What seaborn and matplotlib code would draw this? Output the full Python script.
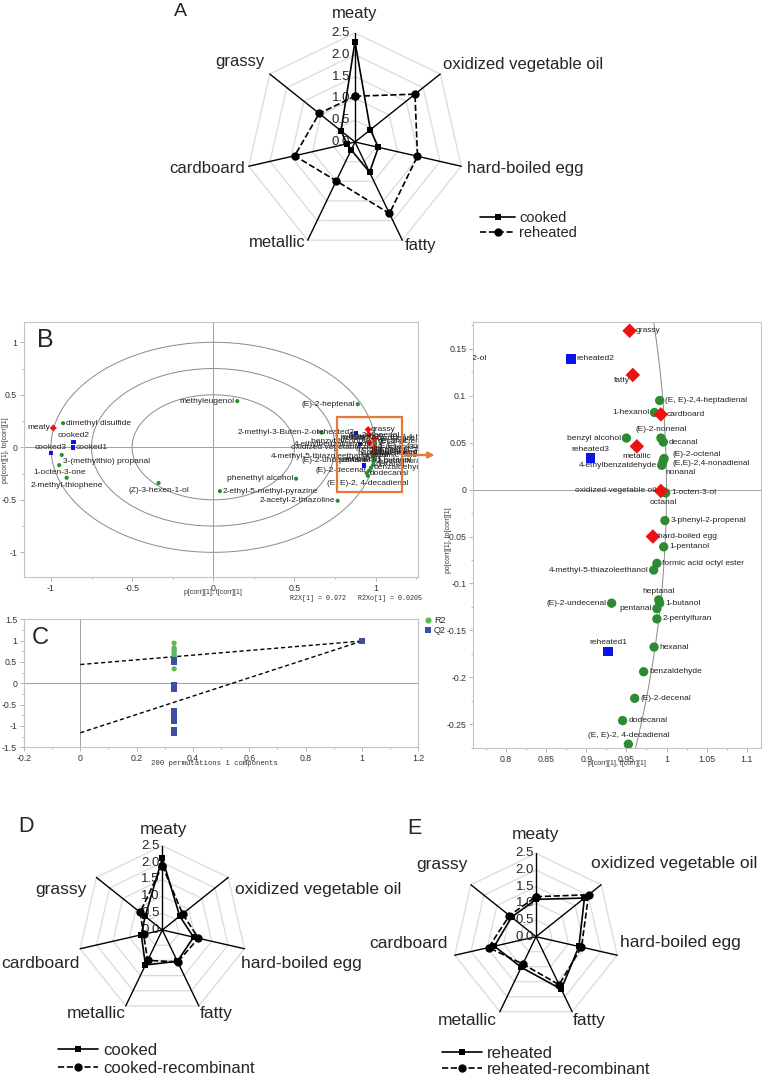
import numpy as np
import pandas as pd
import matplotlib
matplotlib.use("Agg")
import matplotlib.pyplot as plt
from matplotlib.lines import Line2D
from matplotlib.patches import Rectangle
from matplotlib.ticker import MultipleLocator, FuncFormatter
import seaborn as sns

sns.set_theme(style="white")
plt.rcParams['font.family'] = ['Liberation Sans', 'DejaVu Sans']

# ------------------------------------------------------------------ data
attributes = ["meaty", "oxidized vegetable oil", "hard-boiled egg", "fatty",
              "metallic", "cardboard", "grassy"]
radar_ticks = [0.0, 0.5, 1.0, 1.5, 2.0, 2.5]

a_cooked = [2.3, 0.45, 0.55, 0.77, 0.2, 0.19, 0.41]
a_reheated = [1.05, 1.76, 1.47, 1.82, 0.99, 1.42, 1.05]

d_cooked = [2.13, 0.66, 0.95, 1.03, 1.15, 0.64, 0.65]
d_cooked_recomb = [1.91, 0.77, 1.1, 1.05, 1.0, 0.57, 0.84]

e_reheated = [1.12, 1.86, 1.32, 1.75, 1.02, 1.28, 0.94]
e_reheated_recomb = [1.2, 2.02, 1.4, 1.6, 0.91, 1.46, 1.02]

# OPLS-DA loadings / scores (p[corr], po[corr])
var_names = ["dimethyl disulfide", "3-(methylthio) propanal", "1-octen-3-one",
             "2-methyl-thiophene", "(Z)-3-hexen-1-ol", "methyleugenol",
             "2-ethyl-5-methyl-pyrazine", "phenethyl alcohol", "2-acetyl-2-thiazoline",
             "(E)-2-heptenal", "2-methyl-3-Buten-2-ol", "(E, E)-2,4-heptadienal",
             "1-hexanol", "(E)-2-nonenal", "decanal", "benzyl alcohol", "(E)-2-octenal",
             "(E,E)-2,4-nonadienal", "4-ethylbenzaldehyde", "nonanal", "1-octen-3-ol",
             "octanal", "3-phenyl-2-propenal", "1-pentanol", "formic acid octyl ester",
             "4-methyl-5-thiazoleethanol", "heptanal", "1-butanol", "pentanal",
             "(E)-2-undecenal", "2-pentylfuran", "hexanal", "benzaldehyde",
             "(E)-2-decenal", "dodecanal", "(E, E)-2, 4-decadienal"]
var_x = [-0.925, -0.934, -0.949, -0.903, -0.337, 0.148, 0.041, 0.51, 0.766,
         0.89, 0.668, 0.9915, 0.985, 0.993, 0.996, 0.950, 0.997, 0.996, 0.994,
         0.995, 0.999, 0.9965, 0.998, 0.9965, 0.988, 0.984, 0.9903, 0.9915,
         0.988, 0.9315, 0.988, 0.9845, 0.9715, 0.9603, 0.9453, 0.9524]
var_y = [0.23, -0.073, -0.17, -0.29, -0.34, 0.44, -0.417, -0.299, -0.509,
         0.41, 0.14, 0.0948, 0.082, 0.0548, 0.0506, 0.0548, 0.033, 0.031, 0.0258,
         0.028, -0.0036, -0.0025, -0.033, -0.061, -0.0786, -0.0857, -0.1175,
         -0.121, -0.1268, -0.121, -0.1377, -0.1677, -0.194, -0.2223, -0.246, -0.2711]

sample_names = ["cooked1", "cooked2", "cooked3", "reheated1", "reheated2", "reheated3"]
sample_x = [-0.866, -0.86, -1.0, 0.927, 0.881, 0.905]
sample_y = [0.0, 0.053, -0.057, -0.1724, 0.139, 0.0336]

sensory_names = ["meaty", "grassy", "fatty", "cardboard", "metallic",
                 "oxidized vegetable oil", "hard-boiled egg"]
sensory_x = [-0.986, 0.954, 0.958, 0.993, 0.963, 0.993, 0.983]
sensory_y = [0.184, 0.169, 0.122, 0.080, 0.046, -0.0015, -0.050]

r2x_text = "R2X[1] = 0.972   R2Xo[1] = 0.0205"
zoom_box_x = [0.764, 1.165]
zoom_box_y = [-0.423, 0.291]
circle_radii = [0.5, 0.75, 1.0]

# permutation test (200 permutations)
perm_r2_x = [0.333] * 8 + [1.0]
perm_r2 = [0.94, 0.83, 0.79, 0.76, 0.72, 0.68, 0.64, 0.34, 0.99]
perm_q2_x = [0.333] * 10 + [1.0]
perm_q2 = [0.55, 0.5, -0.05, -0.12, -0.65, -0.72, -0.8, -0.88, -1.1, -1.15, 0.99]
r2_line_y = [0.44, 0.99]
q2_line_y = [-1.16, 0.99]
line_x = [0.0, 1.0]

# ------------------------------------------------------------------ style
GREEN = "#2e8b34"
RED = "#ee1111"
BLUE = "#0a14e6"
C_GREEN = "#5cb85c"
C_BLUE = "#3e4ea3"
ORANGE = "#e8773a"
TICKC = "#333333"

W, H = 762, 1084
fig = plt.figure(figsize=(W / 100, H / 100), dpi=100)


def fx(x):
    return x / W


def fy(y):
    return 1 - y / H


def add_px_axes(x0, y0, x1, y1):
    return fig.add_axes([x0 / W, 1 - y1 / H, (x1 - x0) / W, (y1 - y0) / H])


def gfmt(v, p):
    v = round(v, 4)
    if v == 0:
        return "0"
    return f"{v:g}"


# ------------------------------------------------------------------ radar
def radar(box, center, ppu, series, offsets, tick_dx, label_fs, tick_fs):
    x0, y0, x1, y1 = box
    cx, cy = center
    ax = add_px_axes(*box)
    ax.set_xlim((x0 - cx) / ppu, (x1 - cx) / ppu)
    ax.set_ylim((cy - y1) / ppu, (cy - y0) / ppu)
    ax.axis("off")
    n = len(attributes)
    th = 2 * np.pi * np.arange(n) / n
    thc = np.append(th, th[0])
    rmax = radar_ticks[-1]
    for lvl in radar_ticks[1:]:
        ax.plot(lvl * np.sin(thc), lvl * np.cos(thc), color="#dadada", lw=0.9, zorder=1)
    for t in th:
        ax.plot([0, rmax * np.sin(t)], [0, rmax * np.cos(t)], color="black", lw=1.0, zorder=2)
    for lvl in radar_ticks:
        ax.annotate(f"{lvl:.1f}", (0, lvl), xytext=(tick_dx, 0), textcoords="offset pixels",
                    ha="right", va="center", fontsize=tick_fs, zorder=3)
    for name, t, (dx, dy, ha) in zip(attributes, th, offsets):
        ax.annotate(name, (rmax * np.sin(t), rmax * np.cos(t)), xytext=(dx, dy),
                    textcoords="offset pixels", ha=ha, va="center", fontsize=label_fs)
    for vals, ls, mk, ms in series:
        v = np.append(vals, vals[0])
        ax.plot(v * np.sin(thc), v * np.cos(thc), color="black", lw=1.2, linestyle=ls,
                marker=mk, markersize=ms, markeredgewidth=0, zorder=4)
    return ax


def radar_legend(labels, x, ytop, fs, lsp):
    handles = [Line2D([], [], color="black", lw=1.2, ls="-", marker="s", markersize=5, markeredgewidth=0),
               Line2D([], [], color="black", lw=1.2, ls="--", marker="o", markersize=6, markeredgewidth=0)]
    fig.legend(handles, labels, loc="upper left", bbox_to_anchor=(fx(x), fy(ytop)),
               frameon=False, borderpad=0, borderaxespad=0, handlelength=2.4,
               handletextpad=0.3, labelspacing=lsp, fontsize=fs)


# Panel A
radar((150, 0, 620, 262), (355, 142), 43.6,
      [(a_cooked, "-", "s", 5), (a_reheated, "--", "o", 6)],
      [(0, 19.7, "center"), (2.8, 9.1, "left"), (5.4, -2, "left"), (2.7, -4.8, "left"),
       (-1.7, -2.1, "right"), (-3.7, -2, "right"), (-4.8, 12.4, "right")],
      -5, 12, 9.5)
radar_legend(["cooked", "reheated"], 480, 211, 10.5, 0.05)

# Panel D
radar((0, 800, 381, 1084), (162.3, 930), 33.72,
      [(d_cooked, "-", "s", 5), (d_cooked_recomb, "--", "o", 6)],
      [(0.7, 16.4, "center"), (6.8, -12.5, "left"), (-3.8, -14.5, "left"), (1.1, -7.3, "left"),
       (0, -7.3, "right"), (-0.1, -14.5, "right"), (-9.4, -12.5, "right")],
      -2.5, 12.5, 9.5)
radar_legend(["cooked", "cooked-recombinant"], 58, 1043, 12, 0.17)

# Panel E
radar((381, 800, 762, 1084), (536, 936.7), 33.32,
      [(e_reheated, "-", "s", 5), (e_reheated_recomb, "--", "o", 6)],
      [(-1, 19.4, "center"), (-10.1, 20.8, "left"), (2.8, 12.5, "left"), (0.6, -8.3, "left"),
       (-2.9, -8.3, "right"), (-6.8, 12.2, "right"), (-2.9, 19.8, "right")],
      -2, 12.5, 9.5)
radar_legend(["reheated", "reheated-recombinant"], 442, 1046, 12, 0.07)

# ------------------------------------------------------------------ B data frame
df_var = pd.DataFrame({"name": var_names, "x": var_x, "y": var_y})
df_smp = pd.DataFrame({"name": sample_names, "x": sample_x, "y": sample_y})
df_sen = pd.DataFrame({"name": sensory_names, "x": sensory_x, "y": sensory_y})
labels_all = pd.concat([df_var, df_smp, df_sen], ignore_index=True)

place_right = {
    "grassy": "r", "reheated2": "r", "fatty": "lb", "(E, E)-2,4-heptadienal": "r",
    "1-hexanol": "l", "cardboard": "r", "(E)-2-nonenal": "a", "decanal": "r",
    "benzyl alcohol": "l", "metallic": "b", "reheated3": "a", "(E)-2-octenal": "ru",
    "(E,E)-2,4-nonadienal": "rd", "4-ethylbenzaldehyde": "l", "nonanal": "br",
    "oxidized vegetable oil": "l", "1-octen-3-ol": "r", "octanal": "b",
    "3-phenyl-2-propenal": "r", "hard-boiled egg": "r", "1-pentanol": "r",
    "formic acid octyl ester": "r", "4-methyl-5-thiazoleethanol": "l", "heptanal": "a",
    "1-butanol": "r", "pentanal": "l", "(E)-2-undecenal": "l", "2-pentylfuran": "r",
    "reheated1": "a", "hexanal": "r", "benzaldehyde": "r", "(E)-2-decenal": "r",
    "dodecanal": "r", "(E, E)-2, 4-decadienal": "a",
}
place_left = dict(place_right)
place_left.update({
    "meaty": "l", "dimethyl disulfide": "r", "cooked2": "a", "cooked3": "a",
    "cooked1": "r", "3-(methylthio) propanal": "br", "1-octen-3-one": "b",
    "2-methyl-thiophene": "b", "(Z)-3-hexen-1-ol": "b", "methyleugenol": "l",
    "2-ethyl-5-methyl-pyrazine": "r", "phenethyl alcohol": "l",
    "2-acetyl-2-thiazoline": "l", "(E)-2-heptenal": "l", "2-methyl-3-Buten-2-ol": "l",
    "reheated2": "l", "(E)-2-decenal": "l", "(E, E)-2, 4-decadienal": "b",
})

off_right = {"r": (5.5, 0, "left"), "l": (-5, 0, "right"), "a": (0, 8.5, "center"),
             "b": (0, -10.5, "center"), "br": (3, -9.4, "left"), "lb": (-3, -6, "right"),
             "ru": (8, 4, "left"), "rd": (9, -3, "left")}
off_left = {"r": (2.5, 0, "left"), "l": (-2.5, 0, "right"), "a": (0, 6, "center"),
            "b": (0, -7.5, "center"), "br": (1, -7, "left"), "lb": (-2, -3, "right"),
            "ru": (3, 2, "left"), "rd": (3, -2, "left")}


def style_pls_axes(ax):
    for s in ax.spines.values():
        s.set_color("#c4c4c4")
        s.set_linewidth(0.8)
    ax.tick_params(which="both", direction="out", left=True, bottom=True, color="#a8a8a8",
                   labelsize=6.3, labelcolor=TICKC, pad=2, width=0.6)
    ax.tick_params(which="major", length=3)
    ax.tick_params(which="minor", length=1.5)
    ax.xaxis.set_major_formatter(FuncFormatter(gfmt))
    ax.yaxis.set_major_formatter(FuncFormatter(gfmt))
    ax.set_xlabel("")
    ax.set_ylabel("")
    ax.grid(False)


def draw_pls(ax, sizes, places, offs):
    tt = np.linspace(0, 2 * np.pi, 721)
    for r in circle_radii:
        ax.plot(r * np.cos(tt), r * np.sin(tt), color="#8a8a8a", lw=0.7, zorder=1)
    ax.axhline(0, color="#a0a0a0", lw=0.7, zorder=1)
    ax.axvline(0, color="#a0a0a0", lw=0.7, zorder=1)
    sv, ss, sd = sizes
    sns.scatterplot(data=df_var, x="x", y="y", color=GREEN, marker="o", s=sv,
                    edgecolor="none", ax=ax, legend=False, zorder=3)
    sns.scatterplot(data=df_smp, x="x", y="y", color=BLUE, marker="s", s=ss,
                    edgecolor="none", ax=ax, legend=False, zorder=3)
    sns.scatterplot(data=df_sen, x="x", y="y", color=RED, marker="D", s=sd,
                    edgecolor="none", ax=ax, legend=False, zorder=4)
    for _, row in labels_all.iterrows():
        dx, dy, ha = offs[places.get(row["name"], "r")]
        ax.annotate(row["name"], (row["x"], row["y"]), xytext=(dx, dy),
                    textcoords="offset pixels", ha=ha, va="center", fontsize=6,
                    color="#222222", annotation_clip=False, clip_on=True, zorder=5)


# Panel B left
axL = add_px_axes(24, 321.7, 418.3, 576.7)
draw_pls(axL, (9, 10, 13), place_left, off_left)
axL.set_xlim(-1.166, 1.263)
axL.set_ylim(-1.232, 1.196)
axL.set_xticks([-1, -0.5, 0, 0.5, 1])
axL.set_yticks([-1, -0.5, 0, 0.5, 1])
axL.xaxis.set_minor_locator(MultipleLocator(0.25))
axL.yaxis.set_minor_locator(MultipleLocator(0.25))
style_pls_axes(axL)
axL.add_patch(Rectangle((zoom_box_x[0], zoom_box_y[0]), zoom_box_x[1] - zoom_box_x[0],
                        zoom_box_y[1] - zoom_box_y[0], fill=False, edgecolor=ORANGE,
                        lw=1.6, zorder=6))
axL.annotate("", xy=(1.38, -0.073), xytext=(zoom_box_x[1], -0.073),
             arrowprops=dict(arrowstyle="-|>", color=ORANGE, lw=1.6, mutation_scale=9),
             annotation_clip=False, zorder=6)
axL.text(0.034, 0.93, "B", transform=axL.transAxes, fontsize=18, ha="left", va="center")
fig.text(fx(213), fy(593), "p[corr][1], t[corr][1]", fontsize=5, ha="center", va="center", color=TICKC)
fig.text(fx(6), fy(450), "po[corr][1], to[corr][1]", fontsize=5, ha="center", va="center",
         rotation=90, color=TICKC)
fig.text(fx(290), fy(598), r2x_text, fontsize=4.9, ha="left", va="center",
         family="Liberation Mono", color=TICKC)

# Panel B right (zoom)
axR = add_px_axes(473.3, 321.7, 760.7, 748.3)
draw_pls(axR, (45, 45, 55), place_right, off_right)
axR.set_xlim(0.759, 1.1175)
axR.set_ylim(-0.2755, 0.1787)
axR.xaxis.set_major_locator(MultipleLocator(0.05))
axR.yaxis.set_major_locator(MultipleLocator(0.05))
axR.xaxis.set_minor_locator(MultipleLocator(0.025))
axR.yaxis.set_minor_locator(MultipleLocator(0.025))
style_pls_axes(axR)
fig.text(fx(617), fy(763.5), "p[corr][1], t[corr][1]", fontsize=5, ha="center", va="center", color=TICKC)
fig.text(fx(448), fy(540), "po[corr][1], to[corr][1]", fontsize=5, ha="center", va="center",
         rotation=90, color=TICKC)

# ------------------------------------------------------------------ Panel C
axC = add_px_axes(24, 619.3, 418.3, 747.3)
axC.axhline(0, color="#a0a0a0", lw=0.7, zorder=1)
axC.axvline(0, color="#a0a0a0", lw=0.7, zorder=1)
axC.plot(line_x, r2_line_y, color="black", lw=1.0, ls=(0, (3, 2)), zorder=2)
axC.plot(line_x, q2_line_y, color="black", lw=1.0, ls=(0, (3, 2)), zorder=2)
df_r2 = pd.DataFrame({"x": perm_r2_x, "y": perm_r2})
df_q2 = pd.DataFrame({"x": perm_q2_x, "y": perm_q2})
sns.scatterplot(data=df_r2, x="x", y="y", color=C_GREEN, marker="o", s=14,
                edgecolor="none", ax=axC, legend=False, zorder=3)
sns.scatterplot(data=df_q2, x="x", y="y", color=C_BLUE, marker="s", s=22,
                edgecolor="none", ax=axC, legend=False, zorder=4)
axC.set_xlim(-0.2, 1.2)
axC.set_ylim(-1.5, 1.5)
axC.xaxis.set_major_locator(MultipleLocator(0.2))
axC.yaxis.set_major_locator(MultipleLocator(0.5))
axC.xaxis.set_minor_locator(MultipleLocator(0.1))
axC.yaxis.set_minor_locator(MultipleLocator(0.25))
style_pls_axes(axC)
axC.text(0.02, 0.85, "C", transform=axC.transAxes, fontsize=17, ha="left", va="center")
fig.text(fx(214), fy(763.3), "200 permutations 1 components", fontsize=5.2, ha="center",
         va="center", family="Liberation Mono", color=TICKC)
c_handles = [Line2D([], [], ls="", marker="o", color=C_GREEN, markersize=4.5, markeredgewidth=0),
             Line2D([], [], ls="", marker="s", color=C_BLUE, markersize=5, markeredgewidth=0)]
fig.legend(c_handles, ["R2", "Q2"], loc="upper left", bbox_to_anchor=(fx(424), fy(616)),
           frameon=False, borderpad=0, borderaxespad=0, handlelength=0.8, handletextpad=0.3,
           labelspacing=0.15, fontsize=6.5)

# ------------------------------------------------------------------ panel letters
fig.text(fx(180), fy(12), "A", fontsize=14, ha="center", va="center")
fig.text(fx(26), fy(826), "D", fontsize=15.5, ha="center", va="center")
fig.text(fx(414.5), fy(828.5), "E", fontsize=15.5, ha="center", va="center")

fig.savefig("out.png", dpi=100)
